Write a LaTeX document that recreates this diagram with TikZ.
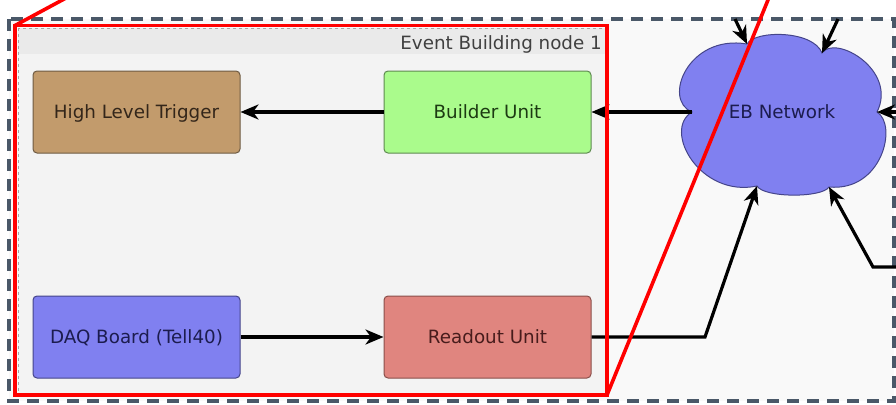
\documentclass[tikz,border=0pt]{standalone}
\usepackage{fontspec}
\setmainfont{DejaVu Sans}
\usetikzlibrary{arrows.meta}
\definecolor{outerline}{HTML}{4A5868}
\definecolor{outerfill}{HTML}{F9F9F9}
\definecolor{innerfill}{HTML}{F3F3F3}
\definecolor{headfill}{HTML}{EAEAEA}
\definecolor{hltfill}{HTML}{C29B6C}
\definecolor{hltdraw}{HTML}{6E5A42}
\definecolor{hlttext}{HTML}{33261A}
\definecolor{bufill}{HTML}{AAFB8C}
\definecolor{budraw}{HTML}{5E8A50}
\definecolor{butext}{HTML}{1C3A12}
\definecolor{bluefill}{HTML}{8080F0}
\definecolor{bluedraw}{HTML}{45458A}
\definecolor{bluetext}{HTML}{1C1C4E}
\definecolor{rufill}{HTML}{E0857F}
\definecolor{rudraw}{HTML}{8A4F4A}
\definecolor{rutext}{HTML}{471C1C}
\definecolor{redline}{HTML}{FF0000}
\begin{document}
\begin{tikzpicture}[x=1pt,y=-1pt,
  every node/.style={font=\fontsize{18.3}{22}\selectfont},
  box/.style={rectangle, rounded corners=4pt, line width=1pt, minimum width=207pt, minimum height=82pt, inner sep=0pt, text height=15pt, text depth=2pt},
  arr/.style={line width=3.2pt, line join=miter, -{Stealth[length=18pt,width=15pt,inset=5.5pt]}},
  redmark/.style={draw=redline, line width=3.6pt}
]
\useasboundingbox (0,0) rectangle (896,404);
% outer container
\draw[outerline, fill=outerfill, line width=3.8pt, dash pattern=on 12pt off 8pt] (9,19) rectangle (894,401);
% event building node container
\fill[innerfill] (18,28) rectangle (605,393);
\fill[headfill] (18,28) rectangle (605,54);
\draw[gray!70, line width=0.7pt, dashed] (18,28) rectangle (605,393);
\node[anchor=base east, inner sep=0pt, text=black!75] (ebtitle) at (602,49) {Event Building node 1};
% boxes
\node[box, fill=hltfill, draw=hltdraw, text=hlttext] (hlt) at (136.5,112) {High Level Trigger};
\node[box, fill=bufill, draw=budraw, text=butext] (bu) at (487.5,112) {Builder Unit};
\node[box, fill=bluefill, draw=bluedraw, text=bluetext] (daq) at (136.5,337) {DAQ Board (Tell40)};
\node[box, fill=rufill, draw=rudraw, text=rutext] (ru) at (487.5,337) {Readout Unit};
% cloud
\coordinate (ebL) at (692,112);
\coordinate (ebTL) at (747,44);
\coordinate (ebTR) at (822,53);
\coordinate (ebR) at (877,112);
\coordinate (ebBR) at (829,187);
\coordinate (ebBL) at (757,186);
\draw[fill=bluefill, draw=bluedraw, line width=1pt]
  (ebL) .. controls (662,100) and (688,34) .. (ebTL)
  .. controls (755,30) and (813,30) .. (ebTR)
  .. controls (835,34) and (898,70) .. (ebR)
  .. controls (898,125) and (882,192) .. (ebBR)
  .. controls (822,198) and (764,198) .. (ebBL)
  .. controls (700,198) and (662,130) .. cycle;
\node[text=bluetext, inner sep=0pt, text height=15pt, text depth=2pt] (eb) at (782,112) {EB Network};
% connector bend points and free ends
\coordinate (bendRU) at (705,337);
\coordinate (inR) at (896,267);
\coordinate (bendR) at (873,267);
\coordinate (inT1) at (735,19);
\coordinate (inT2) at (838,19);
\coordinate (inRt) at (896,112);
% connectors
\draw[arr] (ebL) -- (bu.east);
\draw[arr] (bu.west) -- (hlt.east);
\draw[arr] (daq.east) -- (ru.west);
\draw[arr] (ru.east) -- (bendRU) -- (ebBL);
\draw[arr] (inR) -- (bendR) -- (ebBR);
\draw[arr] (inT1) -- (ebTL);
\draw[arr] (inT2) -- (ebTR);
\draw[arr] (inRt) -- (ebR);
% red zoom marker
\coordinate (rTL) at (15,25.5);
\coordinate (rBR) at (607,395);
\coordinate (rA) at (66,-2);
\coordinate (rB) at (768.8,-2);
\draw[redmark] (rTL) rectangle (rBR);
\draw[redmark] (rTL) -- (rA);
\draw[redmark] (rBR) -- (rB);
\end{tikzpicture}
\end{document}
